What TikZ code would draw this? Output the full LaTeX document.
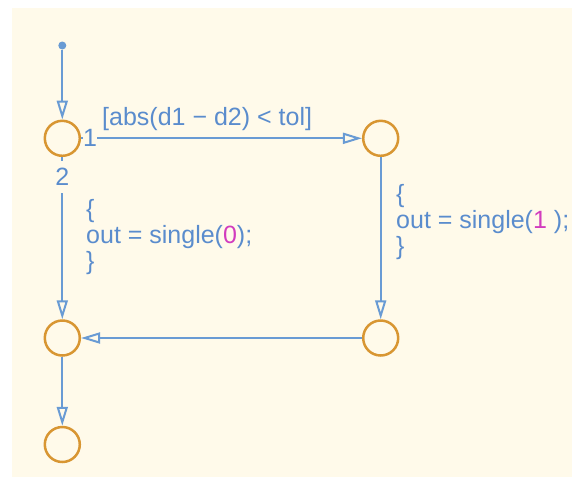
\documentclass[tikz,border=0pt]{standalone}
\usepackage{fontspec}
\setmainfont{Liberation Sans}
\usetikzlibrary{arrows.meta}
\definecolor{bgc}{RGB}{255,250,234}
\definecolor{stc}{RGB}{216,150,50}
\definecolor{trc}{RGB}{105,155,212}
\definecolor{txc}{RGB}{90,140,205}
\definecolor{numc}{RGB}{210,60,190}
\begin{document}
\begin{tikzpicture}[x=1pt,y=-1pt,
  junction/.style={circle,draw=stc,line width=2.5pt,minimum size=35pt,inner sep=0pt},
  startdot/.style={circle,fill=trc,minimum size=8pt,inner sep=0pt},
  trans/.style={draw=trc,line width=2pt,-{Triangle[open,length=19pt,width=11pt]}},
  plain/.style={draw=trc,line width=2pt},
  lbl/.style={text=txc,font=\fontsize{25}{26}\selectfont,inner sep=0pt},
  order/.style={lbl,fill=bgc}]
\useasboundingbox (0,0) rectangle (572,477);
\fill[bgc] (12,8) rectangle (572,477);
% junctions
\node[junction] (a) at (62.3,138.3) {};
\node[junction] (b) at (380.7,138.3) {};
\node[junction] (c) at (62.3,338) {};
\node[junction] (d) at (380.7,338) {};
\node[junction] (e) at (62.3,444.5) {};
\node[startdot] (s) at (62.3,45.5) {};
% transitions
\draw[trans] (s) -- (a);
\draw[trans] (b) -- (d);
\draw[trans] (d) -- (c);
\draw[trans] (c) -- (e);
% execution order labels
\node[order] (n1) at (90,138.3) {1};
\node[order,minimum height=32pt] (n2) at (62.3,177) {2};
\draw[plain] (a) -- (n1);
\draw[trans] (n1) -- (b);
\draw[plain] (a) -- (n2);
\draw[trans] (n2) -- (c);
% transition labels
\node[lbl,anchor=base west] (g) at (102,125) {[abs(d1 − d2) < tol]};
\node[lbl,anchor=north west,align=left] (act0) at (86,199) {\{\\out = single(\textcolor{numc}{0});\\\}};
\node[lbl,anchor=north west,align=left] (act1) at (396,184) {\{\\out = single(\textcolor{numc}{1} );\\\}};
\end{tikzpicture}
\end{document}
